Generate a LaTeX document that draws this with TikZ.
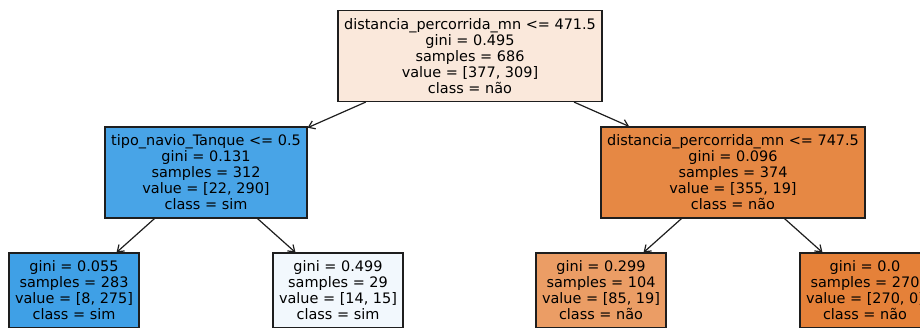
\documentclass[tikz,border=0pt]{standalone}
\usepackage{fontspec}
\setmainfont{DejaVu Sans}
\usetikzlibrary{arrows.meta}
\definecolor{cRoot}{RGB}{250,232,219}
\definecolor{cLeft}{RGB}{72,164,231}
\definecolor{cRight}{RGB}{230,136,68}
\definecolor{cLa}{RGB}{63,160,230}
\definecolor{cLb}{RGB}{242,248,253}
\definecolor{cLc}{RGB}{235,157,101}
\definecolor{cLd}{RGB}{229,129,57}
\definecolor{edgecol}{RGB}{30,30,30}
\tikzset{
  treebox/.style={draw=edgecol, line width=1.1pt, inner sep=0pt, align=center,
    font=\fontsize{14.45}{16}\selectfont, text=black},
  inner/.style={treebox, minimum height=91pt},
  leafbox/.style={treebox, minimum width=130pt, minimum height=75pt},
  link/.style={draw=edgecol, line width=1.2pt, -{Straight Barb[length=6pt,width=8.5pt,line width=1.2pt]}}
}
\begin{document}
\begin{tikzpicture}[x=1pt,y=-1pt]
\useasboundingbox (0,0) rectangle (920,327);
\clip (0,0) rectangle (920,327);
\node[inner, minimum width=264pt, fill=cRoot] (root) at (470,56)
  {distancia\_percorrida\_mn <= 471.5\\gini = 0.495\\samples = 686\\value = [377, 309]\\class = não};
\node[inner, minimum width=202pt, fill=cLeft] (left) at (206,172.5)
  {tipo\_navio\_Tanque <= 0.5\\gini = 0.131\\samples = 312\\value = [22, 290]\\class = sim};
\node[inner, minimum width=264pt, fill=cRight] (right) at (733,172.5)
  {distancia\_percorrida\_mn <= 747.5\\gini = 0.096\\samples = 374\\value = [355, 19]\\class = não};
\node[leafbox, fill=cLa] (la) at (74,290.5)
  {gini = 0.055\\samples = 283\\value = [8, 275]\\class = sim};
\node[leafbox, fill=cLb] (lb) at (338,290.5)
  {gini = 0.499\\samples = 29\\value = [14, 15]\\class = sim};
\node[leafbox, fill=cLc] (lc) at (601,290.5)
  {gini = 0.299\\samples = 104\\value = [85, 19]\\class = não};
\node[leafbox, fill=cLd] (ld) at (865,290.5)
  {gini = 0.0\\samples = 270\\value = [270, 0]\\class = não};
\draw[link] (root) -- (left);
\draw[link] (root) -- (right);
\draw[link] (left) -- (la);
\draw[link] (left) -- (lb);
\draw[link] (right) -- (lc);
\draw[link] (right) -- (ld);
\end{tikzpicture}
\end{document}
